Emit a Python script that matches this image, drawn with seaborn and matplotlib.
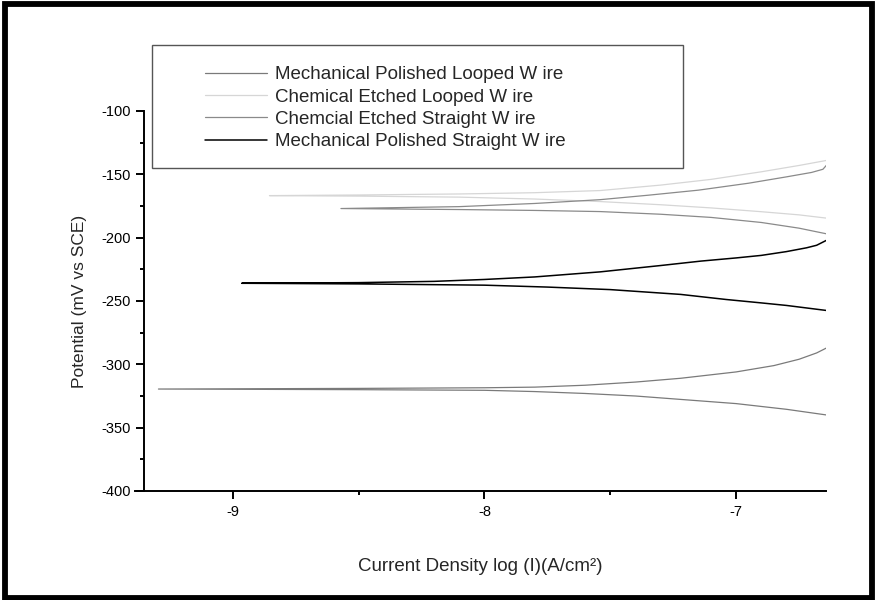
import matplotlib
matplotlib.use('Agg')
import matplotlib.pyplot as plt
from matplotlib.patches import Rectangle
from matplotlib.ticker import MultipleLocator
import seaborn as sns
import pandas as pd

# Tafel curves: upper (anodic) branch traced right -> left, then lower branch left -> right
mp_looped_x = [-6.64, -6.68, -6.75, -6.85, -7.00, -7.22, -7.40, -7.60, -7.80, -8.00, -8.50, -9.295,
               -8.50, -8.00, -7.80, -7.60, -7.40, -7.20, -7.00, -6.80, -6.64]
mp_looped_y = [-287, -291, -296, -301, -306, -311, -314, -316.5, -318, -318.5, -319, -319.5,
               -320, -320.5, -321.5, -323, -325, -328, -331, -335.5, -340]

ce_looped_x = [-6.64, -6.75, -6.90, -7.10, -7.30, -7.54, -7.80, -8.10, -8.50, -8.854,
               -8.50, -8.10, -7.80, -7.54, -7.30, -7.10, -6.90, -6.75, -6.64]
ce_looped_y = [-139, -143, -148, -154, -158.5, -162.8, -164.5, -165.5, -166.3, -166.8,
               -167.2, -168, -169.5, -171.5, -174, -176.5, -179.5, -182, -184.6]

ce_straight_x = [-6.64, -6.655, -6.70, -6.80, -6.95, -7.15, -7.35, -7.54, -7.80, -8.10, -8.57,
                 -8.10, -7.80, -7.54, -7.30, -7.10, -6.90, -6.75, -6.64]
ce_straight_y = [-142.6, -146, -148.5, -152, -157, -162.5, -166.5, -170, -173, -175.5, -177,
                 -177.8, -178.5, -179.4, -181.5, -184, -188, -192.5, -197]

mp_straight_x = [-6.64, -6.68, -6.72, -6.80, -6.90, -7.00, -7.14, -7.30, -7.54, -7.80, -8.00, -8.20, -8.50, -8.964,
                 -8.50, -8.00, -7.75, -7.50, -7.22, -7.04, -6.90, -6.80, -6.64]
mp_straight_y = [-202, -206, -208, -211, -214, -216, -218.5, -222, -227, -231, -233, -234.5, -235.5, -236,
                 -236.5, -237.5, -239, -241, -244.8, -248.8, -251.5, -253.5, -257.5]

labels = ['Mechanical Polished Looped W ire', 'Chemical Etched Looped W ire',
          'Chemcial Etched Straight W ire', 'Mechanical Polished Straight W ire']
colors = ['#7a7a7a', '#d6d6d6', '#8a8a8a', '#000000']
widths = [0.9, 0.9, 0.9, 1.1]

sns.set_style('ticks')
plt.rcParams['font.family'] = ['Liberation Sans', 'DejaVu Sans']
plt.rcParams['axes.unicode_minus'] = False

fig = plt.figure(figsize=(8.75, 6), dpi=100)
ax = fig.add_axes([135.3 / 875, 1 - 491 / 600, 690.4 / 875, 380 / 600])

series = [(mp_looped_x, mp_looped_y), (ce_looped_x, ce_looped_y),
          (ce_straight_x, ce_straight_y), (mp_straight_x, mp_straight_y)]
for (xs, ys), lab, col, lw in zip(series, labels, colors, widths):
    df = pd.DataFrame({'x': xs, 'y': ys})
    sns.lineplot(data=df, x='x', y='y', sort=False, estimator=None,
                 color=col, linewidth=lw, label=lab, ax=ax)

ax.set_xlim(-9.387, -6.644)
ax.set_ylim(-400, -100)
ax.spines['left'].set_position(('data', -9.351))
sns.despine(ax=ax)
for s in ['left', 'bottom']:
    ax.spines[s].set_linewidth(1.4)
    ax.spines[s].set_color('black')

ax.xaxis.set_major_locator(MultipleLocator(1))
ax.xaxis.set_minor_locator(MultipleLocator(0.5))
ax.yaxis.set_major_locator(MultipleLocator(50))
ax.yaxis.set_minor_locator(MultipleLocator(25))
ax.tick_params(which='major', direction='out', length=6, width=1.4, color='black',
               labelsize=10.5, labelcolor='black')
ax.tick_params(which='minor', direction='out', length=3, width=1.4, color='black')
ax.tick_params(axis='x', which='major', pad=4)
ax.tick_params(axis='y', which='major', pad=4)
ax.set_xticks([-9, -8, -7])
ax.set_xticklabels(['-9', '-8', '-7'])

ax.set_xlabel('Current Density log (I)(A/cm²)', fontsize=13.5, labelpad=28)
ax.set_ylabel('Potential (mV vs SCE)', fontsize=12.5, labelpad=10)

# legend box sits above the plot area, as in the original
ax.add_patch(Rectangle((0.0238, 0.8508), 0.7691, 0.3229, transform=ax.transAxes,
                       fill=False, edgecolor='#555555', linewidth=1.0, clip_on=False))
ax.legend(loc='upper left', bbox_to_anchor=(0.101, 1.118), frameon=False,
          fontsize=13.5, handlelength=3.3, handletextpad=0.42, labelspacing=0.28,
          borderpad=0, borderaxespad=0)

# outer frame around the whole figure
fig.patches.append(Rectangle((4.5 / 875, 2.5 / 600), 867.5 / 875, 593.5 / 600,
                             transform=fig.transFigure, fill=False,
                             edgecolor='black', linewidth=4.2))

fig.savefig('out.png', dpi=100)
